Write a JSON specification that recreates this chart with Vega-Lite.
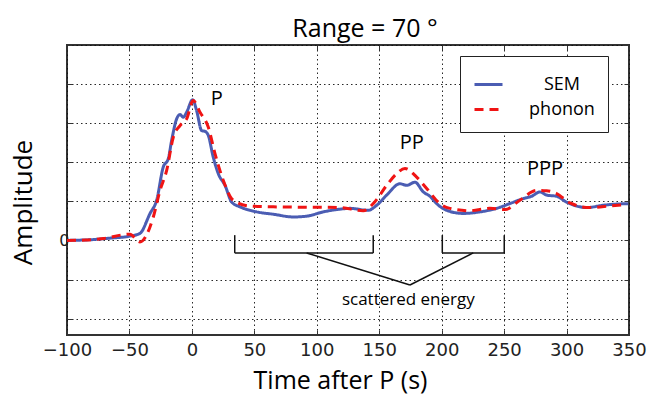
{
  "$schema": "https://vega.github.io/schema/vega-lite/v6.json",
  "width": 562,
  "height": 290,
  "autosize": {"type": "none"},
  "padding": {"left": 67, "top": 45, "right": 21, "bottom": 61},
  "background": "white",
  "title": {"text": "Range = 70 °", "font": "Open Sans", "fontSize": 25, "fontWeight": "normal", "color": "black", "anchor": "middle", "dx": 17, "dy": 28, "offset": 11, "baseline": "alphabetic"},
  "config": {
    "view": {"stroke": "#333", "strokeWidth": 2},
    "legend": {
      "orient": "none", "legendX": 393, "legendY": 11, "strokeColor": "#222", "fillColor": "white", "padding": 13,
      "labelFont": "Open Sans", "labelFontSize": 18, "labelColor": "black", "labelAlign": "center", "labelOffset": 58,
      "symbolSize": 784, "symbolStrokeWidth": 3, "symbolType": "stroke", "rowPadding": -1
    }
  },
  "datasets": {
    "curves": [
      {"series": "SEM", "t": -100, "amp": 0},
      {"series": "SEM", "t": -80, "amp": 0.02},
      {"series": "SEM", "t": -65, "amp": 0.06},
      {"series": "SEM", "t": -49.6, "amp": 0.11},
      {"series": "SEM", "t": -41.6, "amp": 0.18},
      {"series": "SEM", "t": -33.5, "amp": 0.69},
      {"series": "SEM", "t": -28.2, "amp": 1.03},
      {"series": "SEM", "t": -22.9, "amp": 1.88},
      {"series": "SEM", "t": -18.9, "amp": 2.09},
      {"series": "SEM", "t": -16.2, "amp": 2.56},
      {"series": "SEM", "t": -12.2, "amp": 3.11},
      {"series": "SEM", "t": -9.5, "amp": 3.22},
      {"series": "SEM", "t": -6.9, "amp": 3.15},
      {"series": "SEM", "t": -4.2, "amp": 3.28},
      {"series": "SEM", "t": 0.6, "amp": 3.6},
      {"series": "SEM", "t": 3.8, "amp": 3.32},
      {"series": "SEM", "t": 7.8, "amp": 2.81},
      {"series": "SEM", "t": 10.5, "amp": 2.79},
      {"series": "SEM", "t": 13.1, "amp": 2.69},
      {"series": "SEM", "t": 17.1, "amp": 2.13},
      {"series": "SEM", "t": 21.1, "amp": 1.71},
      {"series": "SEM", "t": 26.5, "amp": 1.41},
      {"series": "SEM", "t": 31.9, "amp": 0.98},
      {"series": "SEM", "t": 38.5, "amp": 0.86},
      {"series": "SEM", "t": 51.9, "amp": 0.73},
      {"series": "SEM", "t": 65.2, "amp": 0.67},
      {"series": "SEM", "t": 81.2, "amp": 0.6},
      {"series": "SEM", "t": 91.9, "amp": 0.62},
      {"series": "SEM", "t": 105.2, "amp": 0.73},
      {"series": "SEM", "t": 118.6, "amp": 0.8},
      {"series": "SEM", "t": 126.6, "amp": 0.82},
      {"series": "SEM", "t": 141.2, "amp": 0.77},
      {"series": "SEM", "t": 148, "amp": 0.9},
      {"series": "SEM", "t": 156, "amp": 1.16},
      {"series": "SEM", "t": 166.6, "amp": 1.45},
      {"series": "SEM", "t": 172, "amp": 1.41},
      {"series": "SEM", "t": 178.6, "amp": 1.49},
      {"series": "SEM", "t": 185.3, "amp": 1.24},
      {"series": "SEM", "t": 190.6, "amp": 1.13},
      {"series": "SEM", "t": 196, "amp": 0.94},
      {"series": "SEM", "t": 204, "amp": 0.77},
      {"series": "SEM", "t": 217.3, "amp": 0.69},
      {"series": "SEM", "t": 230.7, "amp": 0.73},
      {"series": "SEM", "t": 244, "amp": 0.82},
      {"series": "SEM", "t": 256, "amp": 0.96},
      {"series": "SEM", "t": 265.3, "amp": 1.07},
      {"series": "SEM", "t": 272, "amp": 1.13},
      {"series": "SEM", "t": 278.7, "amp": 1.24},
      {"series": "SEM", "t": 284, "amp": 1.16},
      {"series": "SEM", "t": 292, "amp": 1.13},
      {"series": "SEM", "t": 300, "amp": 0.98},
      {"series": "SEM", "t": 308, "amp": 0.88},
      {"series": "SEM", "t": 316, "amp": 0.84},
      {"series": "SEM", "t": 329.4, "amp": 0.9},
      {"series": "SEM", "t": 340, "amp": 0.93},
      {"series": "SEM", "t": 349.4, "amp": 0.94},
      {"series": "phonon", "t": -100, "amp": 0},
      {"series": "phonon", "t": -85, "amp": 0.01},
      {"series": "phonon", "t": -70.9, "amp": 0.05},
      {"series": "phonon", "t": -49.6, "amp": 0.16},
      {"series": "phonon", "t": -41.6, "amp": -0.04},
      {"series": "phonon", "t": -30.9, "amp": 0.6},
      {"series": "phonon", "t": -25.5, "amp": 1.28},
      {"series": "phonon", "t": -20.2, "amp": 1.79},
      {"series": "phonon", "t": -14.9, "amp": 2.64},
      {"series": "phonon", "t": -9.5, "amp": 2.94},
      {"series": "phonon", "t": -4.2, "amp": 3.11},
      {"series": "phonon", "t": 1.1, "amp": 3.58},
      {"series": "phonon", "t": 6.5, "amp": 3.28},
      {"series": "phonon", "t": 13.1, "amp": 2.9},
      {"series": "phonon", "t": 18.5, "amp": 2.22},
      {"series": "phonon", "t": 25.1, "amp": 1.54},
      {"series": "phonon", "t": 33.1, "amp": 1.03},
      {"series": "phonon", "t": 46.5, "amp": 0.88},
      {"series": "phonon", "t": 65.2, "amp": 0.86},
      {"series": "phonon", "t": 118.6, "amp": 0.84},
      {"series": "phonon", "t": 137.2, "amp": 0.76},
      {"series": "phonon", "t": 145.2, "amp": 0.94},
      {"series": "phonon", "t": 156, "amp": 1.41},
      {"series": "phonon", "t": 164, "amp": 1.71},
      {"series": "phonon", "t": 170.6, "amp": 1.84},
      {"series": "phonon", "t": 180, "amp": 1.62},
      {"series": "phonon", "t": 188, "amp": 1.33},
      {"series": "phonon", "t": 198.6, "amp": 0.94},
      {"series": "phonon", "t": 206.6, "amp": 0.82},
      {"series": "phonon", "t": 222.6, "amp": 0.76},
      {"series": "phonon", "t": 238.6, "amp": 0.82},
      {"series": "phonon", "t": 250.7, "amp": 0.79},
      {"series": "phonon", "t": 262.7, "amp": 1.03},
      {"series": "phonon", "t": 276, "amp": 1.28},
      {"series": "phonon", "t": 284, "amp": 1.27},
      {"series": "phonon", "t": 292, "amp": 1.2},
      {"series": "phonon", "t": 302.7, "amp": 0.96},
      {"series": "phonon", "t": 318.7, "amp": 0.84},
      {"series": "phonon", "t": 334.7, "amp": 0.88},
      {"series": "phonon", "t": 348, "amp": 0.92}
    ],
    "brackets": [
      {"x1": 34.3, "y1": 0.135, "x2": 34.3, "y2": -0.32},
      {"x1": 34.3, "y1": -0.32, "x2": 145.2, "y2": -0.32},
      {"x1": 145.2, "y1": -0.32, "x2": 145.2, "y2": 0.135},
      {"x1": 200.5, "y1": 0.135, "x2": 200.5, "y2": -0.32},
      {"x1": 200.5, "y1": -0.32, "x2": 250.1, "y2": -0.32},
      {"x1": 250.1, "y1": -0.32, "x2": 250.1, "y2": 0.135},
      {"x1": 91.9, "y1": -0.32, "x2": 174.6, "y2": -1.14},
      {"x1": 174.6, "y1": -1.14, "x2": 225.3, "y2": -0.32}
    ],
    "phases": [
      {"label": "P", "t": 20, "amp": 3.63},
      {"label": "PP", "t": 176, "amp": 2.48},
      {"label": "PPP", "t": 282.7, "amp": 1.84}
    ],
    "notes": [
      {"label": "scattered energy", "t": 173.3, "amp": -1.52}
    ]
  },
  "resolve": {"axis": {"x": "independent", "y": "independent"}},
  "layer": [
    {
      "data": {"name": "curves"},
      "mark": {"type": "line", "strokeWidth": 3, "interpolate": "monotone"},
      "encoding": {
        "x": {"field": "t", "type": "quantitative",
          "scale": {"domain": [-100, 350], "nice": false, "zero": false},
          "axis": {"orient": "bottom", "values": [-100, -50, 0, 50, 100, 150, 200, 250, 300, 350], "grid": true, "gridDash": [1.5, 3], "gridColor": "#111", "gridWidth": 1, "gridOpacity": 0.9,
            "domain": false, "ticks": true, "tickSize": -5, "tickColor": "#333", "tickWidth": 1,
            "labelFont": "DejaVu Sans", "labelFontSize": 18, "labelColor": "#222", "labelPadding": 11, "labelFlush": false, "labelOverlap": false,
            "title": "Time after P (s)", "titleFont": "Open Sans", "titleFontSize": 25, "titleFontWeight": "normal", "titleColor": "black",
            "titleX": 273, "titleY": 53, "titleBaseline": "alphabetic"}},
        "y": {"field": "amp", "type": "quantitative",
          "scale": {"domain": [-2.42, 5], "nice": false, "zero": false},
          "axis": {"orient": "left", "values": [-2, -1, 0, 1, 2, 3, 4, 5], "grid": true, "gridDash": [1.5, 3], "gridColor": "#111", "gridWidth": 1, "gridOpacity": 0.9,
            "domain": false, "ticks": true, "tickSize": -5, "tickColor": "#333", "tickWidth": 1,
            "labelExpr": "datum.value == 0 ? '0' : ''", "labelFont": "DejaVu Sans", "labelFontSize": 16, "labelColor": "#222", "labelPadding": 3,
            "title": "Amplitude", "titleFont": "Open Sans", "titleFontSize": 26, "titleFontWeight": "normal", "titleColor": "black",
            "titleX": -44, "titleY": 157, "titleBaseline": "middle", "titleAngle": -90}},
        "color": {"field": "series", "type": "nominal", "scale": {"domain": ["SEM", "phonon"], "range": ["#4b5db3", "#f01414"]}, "legend": {"title": null}},
        "strokeDash": {"field": "series", "type": "nominal", "scale": {"domain": ["SEM", "phonon"], "range": [[1, 0], [9, 6]]}, "legend": {"title": null}}
      }
    },
    {
      "data": {"name": "brackets"},
      "mark": {"type": "rule", "color": "#111", "strokeWidth": 1.5},
      "encoding": {
        "x": {"field": "x1", "type": "quantitative",
          "axis": {"orient": "top", "values": [-100, -50, 0, 50, 100, 150, 200, 250, 300, 350], "grid": false, "labels": false, "domain": false, "ticks": true, "tickSize": -5, "tickColor": "#333", "title": null}},
        "x2": {"field": "x2"},
        "y": {"field": "y1", "type": "quantitative",
          "axis": {"orient": "right", "values": [-2, -1, 0, 1, 2, 3, 4, 5], "grid": false, "labels": false, "domain": false, "ticks": true, "tickSize": -5, "tickColor": "#333", "title": null}},
        "y2": {"field": "y2"}
      }
    },
    {
      "data": {"name": "phases"},
      "mark": {"type": "text", "font": "Open Sans", "fontSize": 20, "color": "black", "align": "center", "baseline": "middle"},
      "encoding": {
        "x": {"field": "t", "type": "quantitative", "axis": null},
        "y": {"field": "amp", "type": "quantitative", "axis": null},
        "text": {"field": "label"}
      }
    },
    {
      "data": {"name": "notes"},
      "mark": {"type": "text", "font": "Open Sans", "fontSize": 17, "color": "black", "align": "center", "baseline": "middle"},
      "encoding": {
        "x": {"field": "t", "type": "quantitative", "axis": null},
        "y": {"field": "amp", "type": "quantitative", "axis": null},
        "text": {"field": "label"}
      }
    }
  ]
}
